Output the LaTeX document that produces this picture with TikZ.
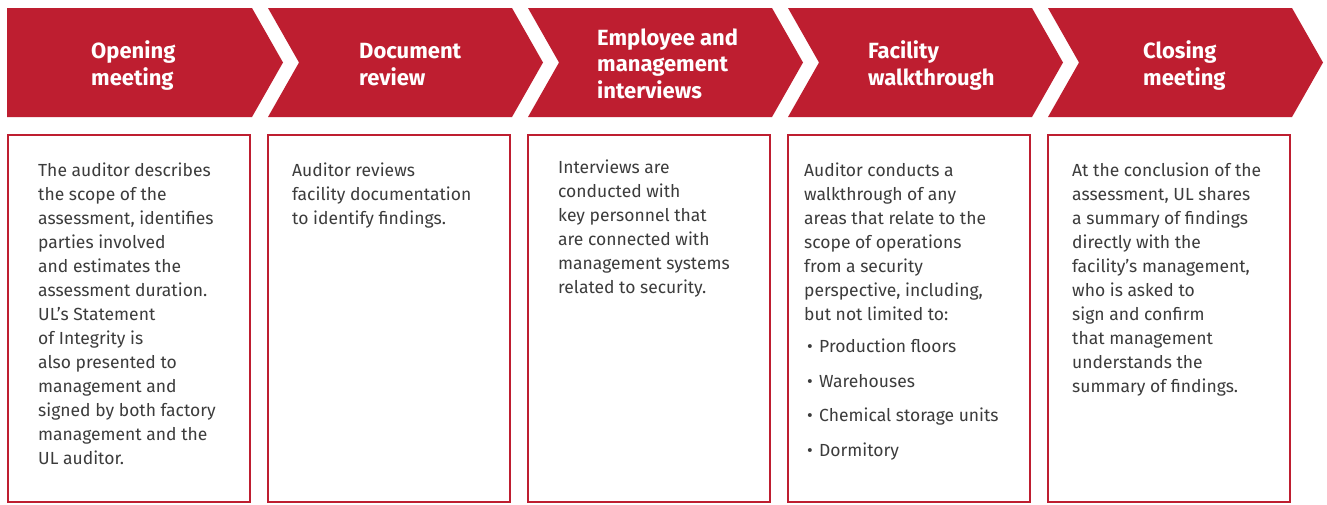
\documentclass[tikz,border=0pt]{standalone}
\usepackage{fontspec}
\setmainfont{Fira Sans}
\definecolor{ulred}{RGB}{190,30,48}
\definecolor{bodygray}{RGB}{60,60,60}
\newcommand{\bul}{\makebox[15pt][l]{\hspace{3pt}•}}
\begin{document}
\begin{tikzpicture}[x=1pt,y=-1pt,
  chev/.style={fill=ulred,draw=none},
  panel/.style={draw=ulred,line width=2pt},
  head/.style={anchor=north west,inner sep=0pt,text=white,align=left,
    font=\fontsize{22}{26.5}\selectfont\bfseries},
  body/.style={anchor=north west,inner sep=0pt,text=bodygray,align=left,
    font=\fontsize{17.5}{24}\selectfont}]
\useasboundingbox[fill=white] (0,0) rectangle (1327,504);
% chevrons
\fill[chev] (7,8) -- (252,8) -- (283,62.5) -- (252,117) -- (7,117) -- cycle;
\foreach \k in {1,2,3,4}{
  \pgfmathsetmacro{\xo}{8+260*\k}
  \fill[chev] (\xo,8) -- (\xo+244,8) -- (\xo+275,62.5) -- (\xo+244,117) -- (\xo,117) -- (\xo+31,62.5) -- cycle;
}
% panels
\foreach \k in {0,1,2,3,4}{
  \pgfmathsetmacro{\xo}{8+260*\k}
  \draw[panel] (\xo,135) rectangle (\xo+242,502);
}
% headings (node top = first baseline)
\node[head] (h1) at (91,58.3) {\smash{Opening}\\meeting};
\node[head] (h2) at (359,58.3) {\smash{Document}\\review};
\node[head] (h3) at (597,45) {\smash{Employee and}\\management\\interviews};
\node[head] (h4) at (868,58.3) {\smash{Facility}\\walkthrough};
\node[head] (h5) at (1143,58.3) {\smash{Closing}\\meeting};
% bodies (node top = first baseline)
\node[body] (b1) at (38,176.7) {\smash{The auditor describes}\\the scope of the\\assessment, identifies\\parties involved\\and estimates the\\assessment duration.\\UL’s Statement\\of Integrity is\\also presented to\\management and\\signed by both factory\\management and the\\UL auditor.};
\node[body] (b2) at (292,176.7) {\smash{Auditor reviews}\\facility documentation\\to identify findings.};
\node[body] (b3) at (558,173.3) {\smash{Interviews are}\\conducted with\\key personnel that\\are connected with\\management systems\\related to security.};
\node[body] (b4) at (804,176.7) {\smash{Auditor conducts a}\\walkthrough of any\\areas that relate to the\\scope of operations\\from a security\\perspective, including,\\but not limited to:\\[8pt]
\bul Production floors\\[10.4pt]
\bul Warehouses\\[10.4pt]
\bul Chemical storage units\\[10.4pt]
\bul Dormitory};
\node[body] (b5) at (1072,176.7) {\smash{At the conclusion of the}\\assessment, UL shares\\a summary of findings\\directly with the\\facility’s management,\\who is asked to\\sign and confirm\\that management\\understands the\\summary of findings.};
\end{tikzpicture}
\end{document}
